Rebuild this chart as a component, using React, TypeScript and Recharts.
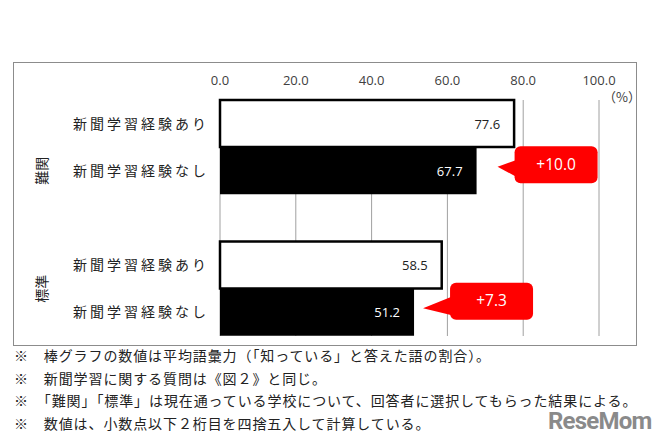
import { Bar, BarChart, CartesianGrid, Cell, LabelList, XAxis, YAxis } from "recharts";

// rows of the chart (the empty row is the gap between the two groups)
const groups = ["難関", "難関", "難関", "標準", "標準"];
const rowLabels = ["新聞学習経験あり", "新聞学習経験なし", "", "新聞学習経験あり", "新聞学習経験なし"];
const scores: (number | null)[] = [77.6, 67.7, null, 58.5, 51.2];
const experienced = [true, false, false, true, false];
const diffLabels: (string | null)[] = [null, "+10.0", null, null, "+7.3"];
const xTicks = [0, 20, 40, 60, 80, 100];

const notes = [
  "※　棒グラフの数値は平均語彙力（「知っている」と答えた語の割合）。",
  "※　新聞学習に関する質問は《図２》と同じ。",
  "※　「難関」「標準」は現在通っている学校について、回答者に選択してもらった結果による。",
  "※　数値は、小数点以下２桁目を四捨五入して計算している。",
];

const data = rowLabels.map((label, i) => ({
  key: "r" + i,
  label,
  group: groups[i],
  score: scores[i],
  exp: experienced[i],
  diff: diffLabels[i],
}));

const W = 663;
const H = 448;
const X_AXIS_H = 30;
const M = { top: 70, right: 64, bottom: 112, left: 20 };
const BAND = (H - M.top - X_AXIS_H - M.bottom) / data.length;

const JP = "'Noto Sans CJK JP', 'Noto Sans', sans-serif";
const NUM = "'Open Sans', 'Noto Sans', sans-serif";

// per-callout nudges (tip / box offset from the bar end)
const calloutDx: Record<string, { tip: number; box: number; dy: number }> = {
  "+10.0": { tip: 21, box: 38, dy: -6 },
  "+7.3": { tip: 9, box: 36, dy: -11 },
};

function RowTick(props: any) {
  const { x, y, payload, index } = props;
  const i = index ?? payload.index;
  const row = data[i];
  const out = [];
  if (row && row.label) {
    out.push(
      <text key="l" x={x - 3} y={y} dy={5} textAnchor="end" fontFamily={JP} fontSize={14}
        letterSpacing={3} fill="#222">
        {row.label}
      </text>
    );
  }
  if (row && (i === 0 || data[i - 1].group !== row.group)) {
    const n = data.filter((d) => d.group === row.group).length;
    const cy = y + ((n - 1) * BAND) / 2;
    out.push(
      <text key="g" x={0} y={0} transform={`translate(42,${cy}) rotate(-90)`} textAnchor="middle"
        dy={5} fontFamily={JP} fontSize={14} fill="#222">
        {row.group}
      </text>
    );
  }
  return <g>{out}</g>;
}

function Callout(props: any) {
  const { x, y, width, height, value } = props;
  if (!value) return null;
  const o = calloutDx[value] ?? { tip: 15, box: 37, dy: -8 };
  const end = x + width;
  const cy = y + height / 2;
  const bx = end + o.box;
  const bw = 83;
  const bh = 37;
  const by = cy + o.dy - bh / 2;
  const tipX = end + o.tip;
  const tipY = cy - 4;
  return (
    <g>
      <rect x={bx} y={by} width={bw} height={bh} rx={6} fill="#ff0000" />
      <path d={`M${tipX},${tipY} L${bx + 4},${by + 13} L${bx + 8},${by + bh - 3} Z`} fill="#ff0000" />
      <text x={bx + bw / 2} y={by + bh / 2} dy={5} textAnchor="middle" fontFamily={NUM}
        fontSize={15.5} fill="#fff">
        {value}
      </text>
    </g>
  );
}

function ValueLabel(props: any) {
  const { x, y, width, height, value } = props;
  if (value == null) return null;
  const row = data.find((d) => d.score === value);
  return (
    <text x={x + width - 14} y={y + height / 2} dy={5} textAnchor="end" fontFamily={NUM}
      fontSize={13} fill={row && row.exp ? "#222" : "#fff"}>
      {Number(value).toFixed(1)}
    </text>
  );
}

export default function App() {
  return (
    <div style={{ position: "relative", width: W, height: H, margin: -8, background: "#fff", overflow: "hidden" }}>
      <div style={{ position: "absolute", left: 13, top: 62, width: 622, height: 282, border: "1px solid #8c8c8c" }} />
      <div style={{ position: "absolute", left: 0, top: 0 }}>
        <BarChart width={W} height={H} data={data} layout="vertical" margin={M} barCategoryGap={0}>
          <CartesianGrid horizontal={false} stroke="#a0a0a0" strokeWidth={1} />
          <XAxis type="number" orientation="top" domain={[0, 100]} ticks={xTicks} interval={0}
            height={X_AXIS_H} axisLine={false} tickLine={false} tickMargin={9}
            tickFormatter={(v: number) => v.toFixed(1)}
            tick={{ fontSize: 13, fill: "#404040", fontFamily: NUM }} />
          <YAxis type="category" dataKey="key" width={200} axisLine={false} tickLine={false}
            interval={0} tick={<RowTick />} />
          <Bar dataKey="score" isAnimationActive={false}>
            {data.map((d, i) => (
              <Cell key={i} fill={d.exp ? "#ffffff" : "#000000"}
                stroke={d.exp ? "#000000" : "none"} strokeWidth={d.exp ? 2.5 : 0} />
            ))}
            <LabelList dataKey="score" content={<ValueLabel />} />
            <LabelList dataKey="diff" content={<Callout />} />
          </Bar>
        </BarChart>
      </div>
      <div style={{ position: "absolute", left: 603, top: 87, fontFamily: JP, fontSize: 13, color: "#404040" }}>
        （%）
      </div>
      {notes.map((n, i) => (
        <div key={i} style={{ position: "absolute", left: 14, top: 346 + i * 22.6, fontFamily: JP, fontSize: 14,
          letterSpacing: 0.9, color: "#222", whiteSpace: "nowrap", lineHeight: "18px" }}>
          {n}
        </div>
      ))}
      <div style={{ position: "absolute", left: 548, top: 409, fontFamily: "'Liberation Sans Narrow', 'Roboto', sans-serif",
        fontWeight: 700, fontSize: 24, lineHeight: "24px", color: "#8a8a8a", letterSpacing: -0.8 }}>
        ReseMom
      </div>
    </div>
  );
}
